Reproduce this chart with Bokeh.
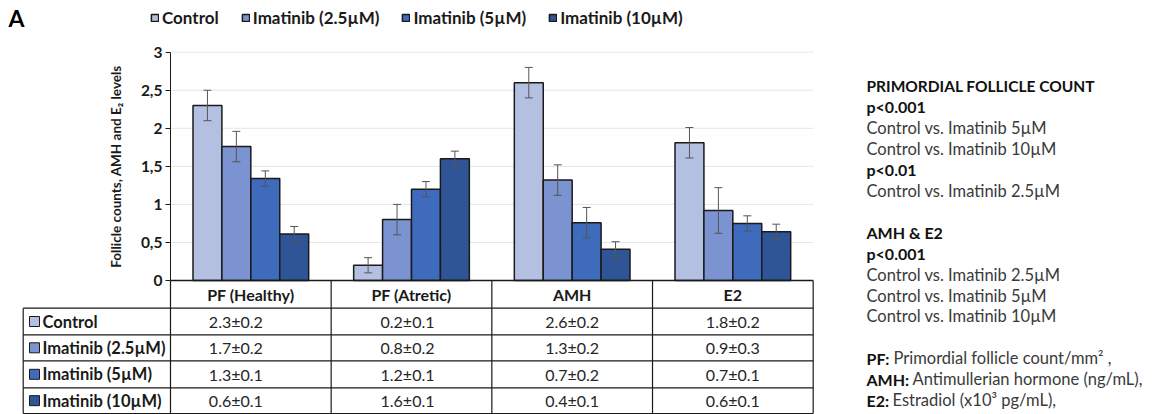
import numpy as np
from bokeh.plotting import figure
from bokeh.models import (ColumnDataSource, Range1d, LinearAxis, FixedTicker,
                          Whisker, TeeHead, Legend, LegendItem)
from bokeh.transform import dodge
from bokeh.core.properties import value
from bokeh.embed import file_html
from bokeh.resources import INLINE

# ---------------- data ----------------
categories = ["PF (Healthy)", "PF (Atretic)", "AMH", "E2"]
groups = ["Control", "Imatinib (2.5µM)", "Imatinib (5µM)", "Imatinib (10µM)"]

control = [2.30, 0.20, 2.60, 1.81]
imatinib_2_5 = [1.76, 0.80, 1.32, 0.92]
imatinib_5 = [1.34, 1.20, 0.76, 0.75]
imatinib_10 = [0.61, 1.60, 0.41, 0.64]

control_err = [0.2, 0.1, 0.2, 0.2]
imatinib_2_5_err = [0.2, 0.2, 0.2, 0.3]
imatinib_5_err = [0.1, 0.1, 0.2, 0.1]
imatinib_10_err = [0.1, 0.1, 0.1, 0.1]

table_control = ["2.3±0.2", "0.2±0.1", "2.6±0.2", "1.8±0.2"]
table_imatinib_2_5 = ["1.7±0.2", "0.8±0.2", "1.3±0.2", "0.9±0.3"]
table_imatinib_5 = ["1.3±0.1", "1.2±0.1", "0.7±0.2", "0.7±0.1"]
table_imatinib_10 = ["0.6±0.1", "1.6±0.1", "0.4±0.1", "0.6±0.1"]

y_ticks = [0, 0.5, 1, 1.5, 2, 2.5, 3]
y_tick_labels = ["0", "0,5", "1", "1,5", "2", "2,5", "3"]
y_label = "Follicle counts, AMH and E₂ levels"
panel_letter = "A"

notes_bold = ["PRIMORDIAL FOLLICLE COUNT", "p<0.001", "", "", "p<0.01", "", "",
              "AMH & E2", "p<0.001", "", "", "", "", "PF:", "AMH:", "E2:"]
notes_regular = ["", "", "Control vs. Imatinib 5µM", "Control vs. Imatinib 10µM", "",
                 "Control vs. Imatinib 2.5µM", "", "", "",
                 "Control vs. Imatinib 2.5µM", "Control vs. Imatinib 5µM",
                 "Control vs. Imatinib 10µM", "",
                 "Primordial follicle count/mm² ,",
                 "Antimullerian hormone (ng/mL),",
                 "Estradiol (x10³ pg/mL),"]

series = [control, imatinib_2_5, imatinib_5, imatinib_10]
errors = [control_err, imatinib_2_5_err, imatinib_5_err, imatinib_10_err]
tables = [table_control, table_imatinib_2_5, table_imatinib_5, table_imatinib_10]

# ---------------- style / layout ----------------
W, H = 1152, 414
colors = ["#b4c0e1", "#7b93d0", "#3f6bbd", "#2f5597"]
FONT = "Lato"
CAT0_PX, CAT_W = 250.33, 160.67      # px of first category centre, category width
ZERO_PX, UNIT_PX = 280.0, 76.1        # px of y=0, px per unit


def X(px):
    return (px - CAT0_PX) / CAT_W


def Y(py):
    return (ZERO_PX - py) / UNIT_PX


p = figure(width=W, height=H, x_range=Range1d(X(0), X(W)),
           y_range=Range1d(Y(H), Y(0)), output_backend="svg",
           toolbar_location=None, x_axis_location=None, y_axis_location=None,
           min_border=0, outline_line_color=None)
p.xgrid.visible = False
p.ygrid.visible = False

xs = np.arange(len(categories))
n = len(categories)
left_edge, right_edge = -0.5, n - 0.5

# grid lines
gy = [t for t in y_ticks if t > 0]
p.segment(x0=[left_edge] * len(gy), x1=[right_edge] * len(gy), y0=gy, y1=gy,
          line_color="#e6e6e6", line_width=1)

# bars
bw = 0.18
offsets = [(i - 1.5) * bw for i in range(len(groups))]
data = {"x": xs}
for i in range(len(groups)):
    v = np.array(series[i]); e = np.array(errors[i])
    data[f"v{i}"] = v
    data[f"up{i}"] = v + e
    data[f"lo{i}"] = v - e
src = ColumnDataSource(data)

renderers = []
for i, g in enumerate(groups):
    r = p.vbar(x=dodge("x", offsets[i], range=p.x_range), top=f"v{i}", bottom=0,
               width=bw, source=src, fill_color=colors[i], line_color="#1a1a1a",
               line_width=1.5)
    renderers.append(r)
    w = Whisker(source=src, base=dodge("x", offsets[i], range=p.x_range),
                upper=f"up{i}", lower=f"lo{i}", line_color="#555555", line_width=1,
                level="annotation",
                upper_head=TeeHead(size=8, line_color="#555555", line_width=1),
                lower_head=TeeHead(size=8, line_color="#555555", line_width=1))
    p.add_layout(w)

# y axis
yax = LinearAxis(fixed_location=left_edge, bounds=(0, 3),
                 ticker=FixedTicker(ticks=y_ticks, minor_ticks=[]))
yax.major_label_overrides = {t: l for t, l in zip(y_ticks, y_tick_labels)}
yax.axis_line_color = "#1a1a1a"
yax.major_tick_line_color = "#1a1a1a"
yax.major_tick_out = 5
yax.major_tick_in = 0
yax.minor_tick_out = 0
yax.major_label_standoff = 3
yax.major_label_text_font = FONT
yax.major_label_text_font_style = "bold"
yax.major_label_text_font_size = "15.5px"
yax.major_label_text_color = "#1a1a1a"
yax.axis_label = y_label
yax.axis_label_text_font = FONT
yax.axis_label_text_font_style = "bold"
yax.axis_label_text_font_size = "13.5px"
yax.axis_label_text_color = "#1a1a1a"
yax.axis_label_standoff = 14
p.add_layout(yax, "left")

# ---------------- table ----------------
tab_left = X(22.7)
head_bot = Y(307.7)
row_lines_px = [307.7, 334.3, 360.3, 387.3, 413.0]
row_lines = [Y(v) for v in row_lines_px]
row_mid = [(a + b) / 2 for a, b in zip(row_lines[:-1], row_lines[1:])]

p.segment(x0=[left_edge], x1=[right_edge], y0=[0], y1=[0], line_color="#1a1a1a", line_width=1.5)
p.segment(x0=[tab_left] * len(row_lines), x1=[right_edge] * len(row_lines),
          y0=row_lines, y1=row_lines, line_color="#1a1a1a", line_width=1.2)
vx = [left_edge + k for k in range(n + 1)]
p.segment(x0=vx, x1=vx, y0=[0] * len(vx), y1=[row_lines[-1]] * len(vx),
          line_color="#1a1a1a", line_width=1.2)
p.segment(x0=[tab_left], x1=[tab_left], y0=[head_bot], y1=[row_lines[-1]],
          line_color="#1a1a1a", line_width=1.2)

# headers
p.text(x=xs, y=[Y(294)] * n, text=categories, text_align="center", text_baseline="middle",
       text_font=value(FONT), text_font_style="bold", text_font_size="16px", text_color="#1a1a1a")

# values
col_shift = [-15, -4, 0, 0]
for i in range(len(groups)):
    p.text(x=xs, y=[row_mid[i]] * n, text=tables[i], x_offset=col_shift, text_align="center",
           text_baseline="middle", text_font=value(FONT), text_font_size="16px",
           text_color="#262626")

# row labels
p.scatter(x=[X(34)] * len(groups), y=row_mid, marker="square", size=10,
          fill_color=colors, line_color="#1a1a1a", line_width=1)
p.text(x=[X(42)] * len(groups), y=row_mid, text=groups, text_align="left",
       text_baseline="middle", text_font=value(FONT), text_font_style="bold",
       text_font_size="16.5px", text_color="#1a1a1a")

# panel letter
p.text(x=[X(8)], y=[Y(17)], text=[panel_letter], text_align="left", text_baseline="middle",
       text_font=value(FONT), text_font_style="bold", text_font_size="23px", text_color="#000000")

# notes on the right
nx = X(866)
ny = [Y(85.5 + k * 20.95) for k in range(len(notes_bold))]
prefix_px = {"PF:": 27, "AMH:": 46, "E2:": 26}
title_idx = [0]
bold_idx = [k for k, t in enumerate(notes_bold) if t and k not in title_idx]
p.text(x=[nx], y=[ny[0]], text=[notes_bold[0]], text_align="left", text_baseline="middle",
       text_font=value(FONT), text_font_style="bold", text_font_size="15.5px",
       text_color="#111111")
p.text(x=[nx] * len(bold_idx), y=[ny[k] for k in bold_idx], text=[notes_bold[k] for k in bold_idx],
       text_align="left", text_baseline="middle", text_font=value(FONT), text_font_style="bold",
       text_font_size="16px", text_color="#111111")
reg_idx = [k for k, t in enumerate(notes_regular) if t]
p.text(x=[nx] * len(reg_idx), y=[ny[k] for k in reg_idx], text=[notes_regular[k] for k in reg_idx],
       x_offset=[prefix_px.get(notes_bold[k], 0) for k in reg_idx],
       text_align="left", text_baseline="middle", text_font=value(FONT),
       text_font_size="16.5px", text_color="#3a3a3a")

# legend
legend = Legend(items=[LegendItem(label=g, renderers=[r]) for g, r in zip(groups, renderers)],
                orientation="horizontal", location=(150, H - 8 - 20), padding=0, margin=0,
                spacing=22, glyph_width=9, glyph_height=9, label_standoff=3,
                label_height=20, label_text_font=FONT, label_text_font_style="bold",
                label_text_font_size="17px", label_text_color="#1a1a1a",
                border_line_color=None, background_fill_alpha=0)
p.add_layout(legend)

open("out.html", "w").write(file_html(p, INLINE))
